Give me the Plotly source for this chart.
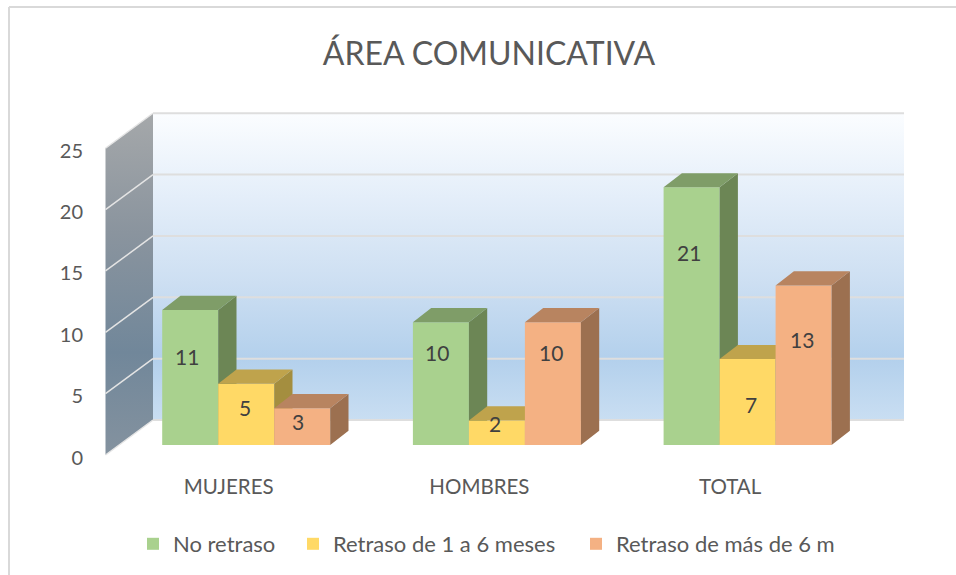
"""
Area comunicativa chart, fake 3D column look built on overlaid axes
"""
import plotly.graph_objects as go

categories = ["MUJERES", "HOMBRES", "TOTAL"]
series_names = ["No retraso", "Retraso de 1 a 6 meses", "Retraso de más de 6 m"]
no_retraso = [11, 10, 21]
retraso_1_6 = [5, 2, 7]
retraso_mas_6 = [3, 10, 13]
y_ticks = [0, 5, 10, 15, 20, 25]

front_colors = ["#a9d18e", "#ffd966", "#f4b183"]
top_colors = ["#7f9d68", "#bfa34c", "#b88460"]
side_colors = ["#6c8655", "#a48e3f", "#9c7050"]

# label nudges in pixels, the original labels do not sit in the bar centres
label_xshift = [[-3, -4, -3], [-1, -2, 3], [-4, -2, -2]]
label_yshift = [[21, 31, 64], [7, 9, -2], [5, 31, 26]]

W, H = 956, 575
PL, PR, PT, PB = 90, 930, 95, 470
X_UNIT = 250.7  # px per category
Y_UNIT = 12.27  # px per value unit
BAR_W = 56 / X_UNIT
DEPTH_X = 18.3 / X_UNIT
DEPTH_Y = 14.2 / Y_UNIT
FONT = "Lato"
TEXT = "#595959"


def x_range(zero_px):
    return [(PL - zero_px) / X_UNIT, (PR - zero_px) / X_UNIT]


def y_range(zero_px):
    return [(zero_px - PB) / Y_UNIT, (zero_px - PT) / Y_UNIT]


# wall geometry in the main axes; y 0 sits a little under the wall corner so the
# tick labels land where they do in the original
X0_MAIN, Y0_MAIN = 228.7, 457.5
X0_BARS, Y0_BARS = 246.2, 445
WALL_FRONT = (105.5 - X0_MAIN) / X_UNIT
WALL_BACK = (153 - X0_MAIN) / X_UNIT
WALL_RIGHT = (904 - X0_MAIN) / X_UNIT
WALL_BASE = (Y0_MAIN - 455) / Y_UNIT
WALL_RISE = 35 / Y_UNIT
TOP = y_ticks[-1]
BACK_0 = WALL_BASE + WALL_RISE

fig = go.Figure()

fig.add_trace(go.Scatter(
    x=[WALL_BACK, WALL_RIGHT, WALL_RIGHT, WALL_BACK, WALL_BACK],
    y=[BACK_0, BACK_0, TOP + BACK_0, TOP + BACK_0, BACK_0],
    mode="lines", line={"width": 0}, fill="toself", showlegend=False, hoverinfo="skip",
    fillgradient={"type": "vertical",
                  "colorscale": [[0, "#c9def2"], [0.2, "#b3d0ec"], [0.45, "#cddff2"],
                                 [0.8, "#eaf2fb"], [1, "#fbfdff"]]},
))
fig.add_trace(go.Scatter(
    x=[WALL_FRONT, WALL_BACK, WALL_BACK, WALL_FRONT, WALL_FRONT],
    y=[WALL_BASE, BACK_0, TOP + BACK_0, TOP + WALL_BASE, WALL_BASE],
    mode="lines", line={"width": 0}, fill="toself", showlegend=False, hoverinfo="skip",
    fillgradient={"type": "vertical",
                  "colorscale": [[0, "#84929f"], [0.3, "#71879a"], [0.65, "#8a949e"],
                                 [1, "#a5a8aa"]]},
))
for t in y_ticks:
    fig.add_trace(go.Scatter(
        x=[WALL_BACK, WALL_RIGHT], y=[t + BACK_0, t + BACK_0], mode="lines",
        line={"color": "#dedede", "width": 2}, showlegend=False, hoverinfo="skip",
    ))
    fig.add_trace(go.Scatter(
        x=[WALL_FRONT, WALL_BACK], y=[t + WALL_BASE, t + BACK_0], mode="lines",
        line={"color": "#e4e4e4", "width": 1.5}, showlegend=False, hoverinfo="skip",
    ))

# each series gets its own overlaid axes so that it paints over the one before it
values = [no_retraso, retraso_1_6, retraso_mas_6]
legend_ids = ["legend", "legend2", "legend3"]
legend_px = [133, 293, 576]
for s, vals in enumerate(values):
    xa, ya = f"x{s + 2}", f"y{s + 2}"
    lefts = [c + (s - 1.5) * BAR_W for c in range(len(categories))]
    centers = [c + (s - 1) * BAR_W for c in range(len(categories))]
    fig.add_trace(go.Bar(
        x=centers, y=vals, width=BAR_W, name=series_names[s], xaxis=xa, yaxis=ya,
        marker={"color": front_colors[s], "line": {"width": 0}}, legend=legend_ids[s], showlegend=True,
    ))
    side_x, side_y, top_x, top_y = [], [], [], []
    for left, v in zip(lefts, vals):
        right = left + BAR_W
        side_x += [right, right + DEPTH_X, right + DEPTH_X, right, right, None]
        side_y += [0, DEPTH_Y, v + DEPTH_Y, v, 0, None]
        top_x += [left, right, right + DEPTH_X, left + DEPTH_X, left, None]
        top_y += [v, v, v + DEPTH_Y, v + DEPTH_Y, v, None]
    fig.add_trace(go.Scatter(x=side_x, y=side_y, xaxis=xa, yaxis=ya, mode="lines", line={"width": 0},
                             fill="toself", fillcolor=side_colors[s], showlegend=False, hoverinfo="skip"))
    fig.add_trace(go.Scatter(x=top_x, y=top_y, xaxis=xa, yaxis=ya, mode="lines", line={"width": 0},
                             fill="toself", fillcolor=top_colors[s], showlegend=False, hoverinfo="skip"))
    for c, v in enumerate(vals):
        fig.add_annotation(
            x=centers[c], y=v / 2, xref=xa, yref=ya, text=str(v), showarrow=False,
            xshift=label_xshift[s][c], yshift=label_yshift[s][c],
            font={"family": FONT, "size": 21, "color": "#404040"},
        )


def paper_x(px):
    return (px - PL) / (PR - PL)


def paper_y(px):
    return (PB - px) / (PB - PT)


fig.add_shape(type="line", xref="paper", yref="paper", x0=paper_x(9), x1=paper_x(9),
              y0=paper_y(7), y1=paper_y(H), line={"color": "#d9d9d9", "width": 2})
fig.add_shape(type="line", xref="paper", yref="paper", x0=paper_x(9), x1=paper_x(W),
              y0=paper_y(7), y1=paper_y(7), line={"color": "#d9d9d9", "width": 2})

fig.update_layout(
    width=W, height=H, autosize=False,
    margin={"l": PL, "r": W - PR, "t": PT, "b": H - PB, "pad": 0},
    paper_bgcolor="white", plot_bgcolor="rgba(0,0,0,0)",
    barmode="overlay", font={"family": FONT, "color": TEXT},
    title={"text": "ÁREA COMUNICATIVA", "x": 489 / W, "xanchor": "center", "y": 1 - 54 / H, "yanchor": "middle",
           "font": {"family": FONT, "size": 32, "color": TEXT}},
    xaxis={"range": x_range(X0_MAIN), "tickmode": "array", "tickvals": list(range(len(categories))),
           "ticktext": categories, "showgrid": False, "zeroline": False, "showline": False,
           "ticklabelstandoff": 2, "tickfont": {"family": FONT, "size": 20.5, "color": TEXT}},
    yaxis={"range": y_range(Y0_MAIN), "tickmode": "array", "tickvals": y_ticks, "showgrid": False,
           "zeroline": False, "showline": False, "ticks": "", "ticklabelstandoff": 6,
           "tickfont": {"family": FONT, "size": 20, "color": TEXT}},
)
# container refs keep the legends from pushing the margins in
for lid, lx in zip(legend_ids, legend_px):
    fig.update_layout({lid: {"orientation": "h", "x": lx / W, "y": 1 - 523 / H, "xref": "container",
                             "yref": "container", "xanchor": "left", "yanchor": "top",
                             "bgcolor": "rgba(0,0,0,0)",
                             "font": {"family": FONT, "size": 22, "color": TEXT}}})
for i in range(2, 5):
    fig.update_layout({
        f"xaxis{i}": {"range": x_range(X0_BARS), "overlaying": "x", "anchor": f"y{i}", "visible": False},
        f"yaxis{i}": {"range": y_range(Y0_BARS), "overlaying": "y", "anchor": f"x{i}", "visible": False},
    })

# the default page keeps the 8 px body margin, drop it so the figure fills the window
fig.write_html("out.html", post_script="document.body.style.margin = '0';",
               config={"displayModeBar": False})
